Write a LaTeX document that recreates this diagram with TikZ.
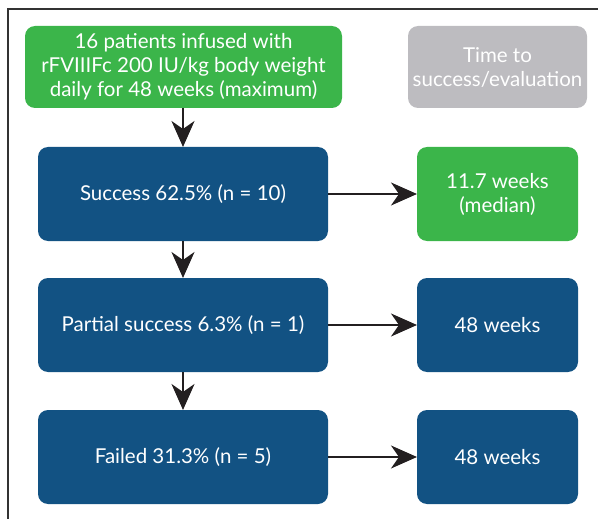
\documentclass[tikz,border=0pt]{standalone}
\usepackage{fontspec}
\setmainfont{Lato}
\usetikzlibrary{arrows.meta}
\definecolor{cgreen}{HTML}{3BB54A}
\definecolor{cblue}{HTML}{125283}
\definecolor{cgray}{HTML}{BDBCC0}
\definecolor{carrow}{HTML}{231F20}
\begin{document}
\begin{tikzpicture}[x=1pt,y=-1pt,
  boxbase/.style={rounded corners=10pt, text=white, font=\fontsize{20.5}{24}\selectfont, align=center, inner sep=0pt},
  flow/.style={draw=carrow, line width=2.2pt, -{Stealth[length=26pt,width=23pt,inset=8pt]}}]
\useasboundingbox (0,0) rectangle (598,519);
\draw[line width=1.3pt, color=black!80] (8,519) -- (8,9) -- (598,9);
% boxes
\fill[cgreen, rounded corners=10pt] (25,26) rectangle (342,108);
\node[boxbase] (start) at (183.5,67) {16 patients infused with\\rFVIIIFc 200 IU/kg body weight\\daily for 48 weeks (maximum)};
\coordinate (startS) at (183,108);
\fill[cgray, rounded corners=10pt] (408,26) rectangle (587,108);
\node[boxbase] (time) at (497.5,67) {Time to\\success/evaluation};
\fill[cblue, rounded corners=10pt] (38,147) rectangle (328,241);
\node[boxbase] (succ) at (183,194) {Success 62.5\% (n = 10)};
\fill[cgreen, rounded corners=10pt] (417,147) rectangle (578,241);
\node[boxbase] (med) at (497.5,194) {11.7 weeks\\(median)};
\fill[cblue, rounded corners=10pt] (38,278) rectangle (328,372);
\node[boxbase] (part) at (183,325) {Partial success 6.3\% (n = 1)};
\fill[cblue, rounded corners=10pt] (417,278) rectangle (578,372);
\node[boxbase] (w1) at (497.5,325) {48 weeks};
\fill[cblue, rounded corners=10pt] (38,410) rectangle (328,504);
\node[boxbase] (fail) at (183,457) {Failed 31.3\% (n = 5)};
\fill[cblue, rounded corners=10pt] (417,410) rectangle (578,504);
\node[boxbase] (w2) at (497.5,457) {48 weeks};
% named edge coordinates
\coordinate (succN) at (183,147); \coordinate (succS) at (183,241); \coordinate (succE) at (328,194);
\coordinate (medW) at (417,194);
\coordinate (partN) at (183,278); \coordinate (partS) at (183,372); \coordinate (partE) at (328,325);
\coordinate (w1W) at (417,325);
\coordinate (failN) at (183,410); \coordinate (failE) at (328,457);
\coordinate (w2W) at (417,457);
% arrows
\draw[flow] (startS) -- (succN);
\draw[flow] (succS) -- (partN);
\draw[flow] (partS) -- (failN);
\draw[flow] (succE) -- (medW);
\draw[flow] (partE) -- (w1W);
\draw[flow] (failE) -- (w2W);
\end{tikzpicture}
\end{document}
